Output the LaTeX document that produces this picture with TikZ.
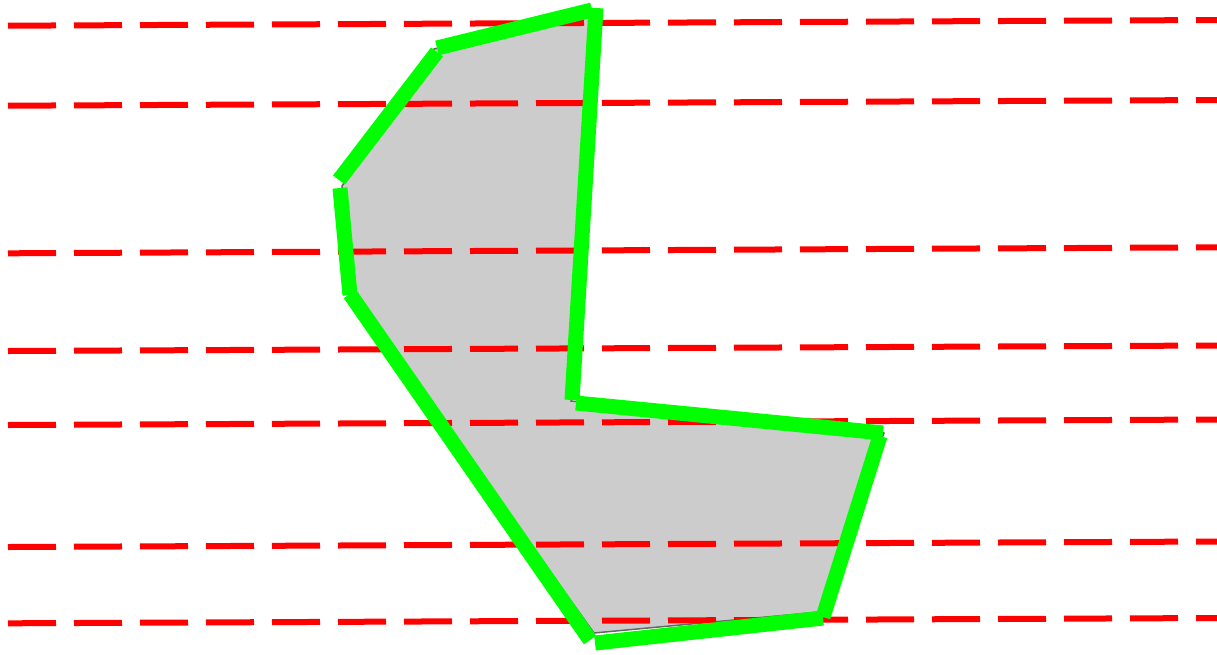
\documentclass[tikz,border=0pt]{standalone}
\usepackage{tikz}
\usetikzlibrary{calc}
\tikzset{
	scanline/.style={line width=6pt, color=red, dash pattern=on 48pt off 18pt},
	rim/.style={line width=15pt, color=green},
	area/.style={fill=black!20, draw=black!60, line width=1.5pt}
}

\begin{document}
\begin{tikzpicture}[x=1pt, y=-1pt]
		%%%%% START %%%%%
		\useasboundingbox (0, 0) rectangle (1217, 654);
		
		\coordinate (p1) at (342, 186);
		\coordinate (p2) at (434, 49);
		\coordinate (p3) at (590, 15);
		\coordinate (p4) at (571, 401);
		\coordinate (p5) at (884, 433);
		\coordinate (p6) at (820, 612);
		\coordinate (p7) at (594, 633);
		\coordinate (p8) at (351, 295);
		
		\draw[area] (p1) -- (p2) -- (p3) -- (p4) -- (p5) -- (p6) -- (p7) -- (p8) -- cycle;
		
		\draw[scanline] (8, 25.7) -- (1217, 20);
		\draw[scanline] (8, 105.7) -- (1217, 100);
		\draw[scanline] (8, 253.3) -- (1217, 247.3);
		\draw[scanline] (8, 351) -- (1217, 345.5);
		\draw[scanline] (8, 425) -- (1217, 419.5);
		\draw[scanline] (8, 547) -- (1217, 541.5);
		\draw[scanline] (8, 623.3) -- (1217, 618);
		
		\draw[rim] (339, 180) -- (437, 52);
		\draw[rim] (437, 48) -- (592, 10);
		\draw[rim] (596, 8) -- (572, 400);
		\draw[rim] (576, 403) -- (883, 433);
		\draw[rim] (880, 436) -- (823, 617);
		\draw[rim] (823, 618) -- (595, 643);
		\draw[rim] (590, 640) -- (350, 294);
		\draw[rim] (350, 295) -- (340, 188);
		
		%%%%% END %%%%%
	\end{tikzpicture}
\end{document}
